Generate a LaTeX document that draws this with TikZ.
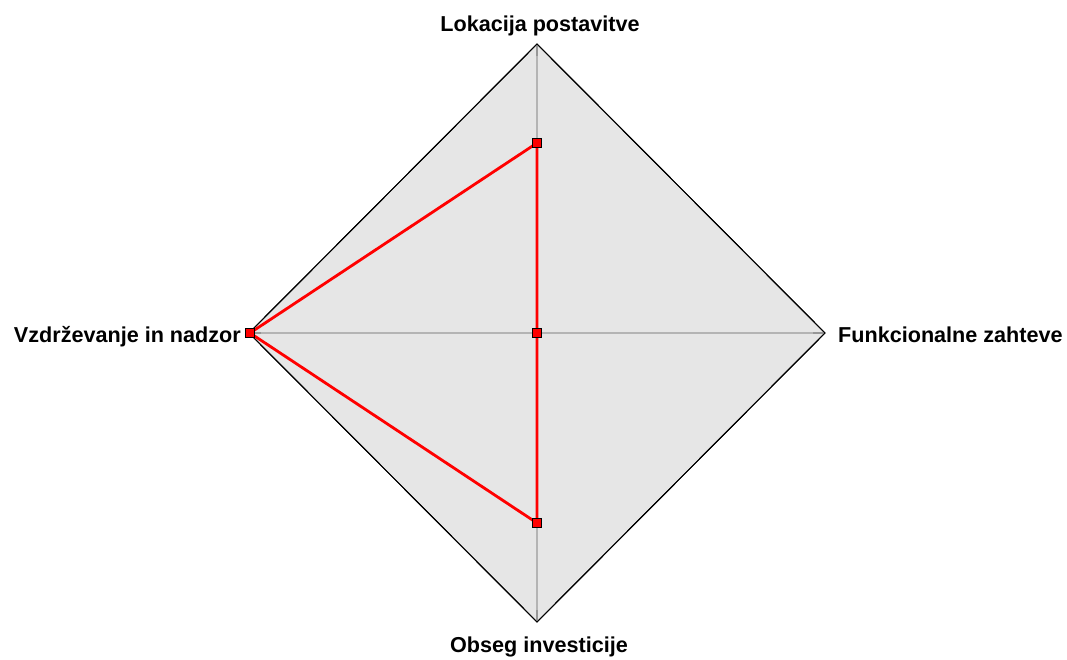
\documentclass[tikz,border=0pt]{standalone}
\usepackage{fontspec}
\newfontfamily\axisfont{Liberation Sans}
\begin{document}
\begin{tikzpicture}[x=1pt,y=-1pt,
  axislabel/.style={font=\axisfont\bfseries\fontsize{21.6}{24}\selectfont, inner sep=0pt},
  gridline/.style={draw={rgb,255:red,180;green,180;blue,180}, line width=1.2pt},
  gridtip/.style={draw={rgb,255:red,150;green,150;blue,150}, line width=1.2pt},
  frame/.style={draw=black, line width=1pt, fill={rgb,255:red,230;green,230;blue,230}},
  series/.style={draw=red, line width=2.8pt, line join=miter},
  marker/.style={draw=black, fill=red, line width=1pt, minimum size=9pt, inner sep=0pt, rectangle}]
\useasboundingbox (0,0) rectangle (1067,659);

% axis end points
\coordinate (c) at (537,333);
\coordinate (t) at (537,44);
\coordinate (r) at (825,333);
\coordinate (b) at (537,622);
\coordinate (l) at (249,333);

% background diamond
\path[frame] (t) -- (r) -- (b) -- (l) -- cycle;

% axes
\draw[gridline] (c) -- (t);
\draw[gridline] (c) -- (r);
\draw[gridline] (c) -- (b);
\draw[gridline] (c) -- (l);
\draw[gridtip] (537,56) -- (t);
\draw[gridtip] (813,333) -- (r);
\draw[gridtip] (537,610) -- (b);
\draw[gridtip] (261,333) -- (l);

% outline on top
\draw[black, line width=1pt] (t) -- (r) -- (b) -- (l) -- cycle;

% data points
\coordinate (p1) at (537,143);
\coordinate (p2) at (537,333);
\coordinate (p3) at (537,523);
\coordinate (p4) at (250,333);

\draw[series] (p1) -- (p2) -- (p3) -- (p4) -- cycle;

\node[marker] (m1) at (p1) {};
\node[marker] (m2) at (p2) {};
\node[marker] (m3) at (p3) {};
\node[marker] (m4) at (p4) {};

% axis labels
\node[axislabel, anchor=base] (lt) at (540,31) {Lokacija postavitve};
\node[axislabel, anchor=base west] (lr) at (838,342) {Funkcionalne zahteve};
\node[axislabel, anchor=base] (lb) at (539,652) {Obseg investicije};
\node[axislabel, anchor=base east] (ll) at (241,342) {Vzdrževanje in nadzor};
\end{tikzpicture}
\end{document}
